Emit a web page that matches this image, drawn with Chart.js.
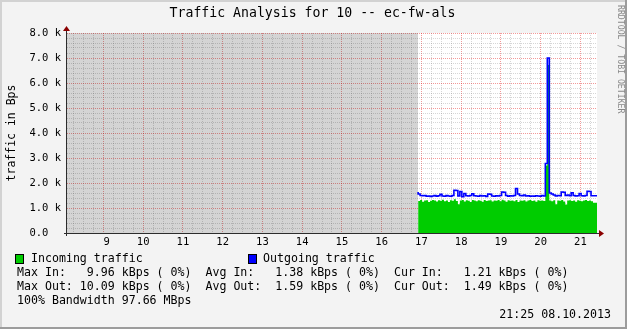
<!DOCTYPE html>
<html><head><meta charset="utf-8">
<script src="https://cdn.jsdelivr.net/npm/chart.js@4/dist/chart.umd.min.js"></script>
<style>html,body{margin:0;padding:0;background:#f3f3f3;overflow:hidden}canvas{display:block}</style>
</head><body>
<canvas id="c" width="627" height="329" style="width:627px;height:329px"></canvas>
<script>
// ---- data (hours of day, Bytes per second) ----
const viewStart = 8 + 5/60;      // 08:05
const viewEnd = 21 + 25/60;      // 21:25
const dataStart = 16 + 55/60;    // 16:55 first known sample
const sampleMinutes = 3;

const incoming = [
  1300,1280,1320,1250,1300,1310,1240,1290,1320,1300,
  1260,1310,1290,1330,1270,1300,1240,1310,1290,1350,
  1280,1150,1300,1320,1260,1310,1290,1240,1320,1300,
  1270,1310,1290,1250,1320,1280,1300,1310,1260,1300,
  1290,1320,1270,1330,1300,1250,1310,1290,1300,1270,
  1320,1240,1300,1290,1310,1260,1300,1320,1280,1300,
  1250,1310,1290,1300,1280,2700,6720,1300,1270,1310,
  1150,1300,1290,1320,1260,1140,1300,1310,1280,1300,
  1250,1310,1290,1270,1300,1320,1280,1300,1270,1210
];
const outgoing = [
  1640,1560,1500,1490,1500,1470,1480,1460,1480,1500,
  1470,1490,1550,1480,1470,1500,1480,1470,1500,1710,
  1700,1480,1660,1450,1580,1490,1480,1500,1570,1490,
  1480,1470,1500,1480,1490,1460,1560,1550,1480,1470,
  1490,1480,1500,1640,1630,1500,1470,1490,1480,1500,
  1780,1560,1500,1490,1520,1480,1490,1470,1480,1470,
  1490,1480,1470,1500,1480,2780,7000,1600,1560,1520,
  1480,1500,1490,1640,1630,1500,1520,1490,1610,1500,
  1480,1490,1580,1490,1480,1500,1670,1660,1490,1490
];
const unknownTop = 8000;

const hourTicks = [9,10,11,12,13,14,15,16,17,18,19,20,21];
const hourLabels = [' 9','10','11','12','13','14','15','16','17','18','19','20','21'];
const yTickValues = [0,1000,2000,3000,4000,5000,6000,7000,8000];
const yTickLabels = ['0.0  ','1.0 k','2.0 k','3.0 k','4.0 k','5.0 k','6.0 k','7.0 k','8.0 k'];

const titleText = 'Traffic Analysis for 10 -- ec-fw-als';
const legendRows = [
  'Max In:   9.96 kBps ( 0%)  Avg In:   1.38 kBps ( 0%)  Cur In:   1.21 kBps ( 0%)',
  'Max Out: 10.09 kBps ( 0%)  Avg Out:  1.59 kBps ( 0%)  Cur Out:  1.49 kBps ( 0%)',
  '100% Bandwidth 97.66 MBps'
];
const stamp = '21:25 08.10.2013';

// ---- build points ----
function toPoints(vals){
  const pts = vals.map((v,i)=>({x: dataStart + i*sampleMinutes/60, y: v}));
  pts.push({x: viewEnd, y: vals[vals.length-1]});
  return pts;
}
const xGrid = []; for (let m = 15; m < (viewEnd-8)*60; m += 15) { const h = 8 + m/60; if (h > viewStart) xGrid.push(h); }
const yGrid = []; for (let v = 0; v <= 8000; v += 200) yGrid.push(v);

const MONO = "'DejaVu Sans Mono', monospace";
const isInt = v => Math.abs(v - Math.round(v)) < 1e-6;

const decor = {
  id: 'decor',
  beforeDraw(chart){
    const {ctx, chartArea: a, width, height} = chart;
    ctx.save();
    ctx.fillStyle = '#f3f3f3'; ctx.fillRect(0,0,width,height);
    ctx.fillStyle = '#ffffff'; ctx.fillRect(a.left, a.top, a.right-a.left, a.bottom-a.top);
    ctx.restore();
  },
  afterDraw(chart){
    const {ctx, chartArea: a, width, height} = chart;
    ctx.save();
    // title
    ctx.font = '13.2px ' + MONO; ctx.fillStyle = '#000'; ctx.textAlign = 'center'; ctx.textBaseline = 'middle';
    ctx.fillText(titleText, 312.5, 13.5);
    // axes
    ctx.strokeStyle = '#2c2c2c'; ctx.lineWidth = 1;
    ctx.beginPath();
    ctx.moveTo(a.left - 3, a.bottom + 0.5); ctx.lineTo(a.right + 3, a.bottom + 0.5);
    ctx.moveTo(a.left - 0.5, a.bottom + 3); ctx.lineTo(a.left - 0.5, a.top - 3);
    ctx.stroke();
    ctx.fillStyle = '#8b0000';
    ctx.beginPath();
    ctx.moveTo(a.right + 2, a.bottom - 3); ctx.lineTo(a.right + 7, a.bottom + 0.5); ctx.lineTo(a.right + 2, a.bottom + 4); ctx.closePath(); ctx.fill();
    ctx.beginPath();
    ctx.moveTo(a.left - 4, a.top - 2); ctx.lineTo(a.left - 0.5, a.top - 7); ctx.lineTo(a.left + 3, a.top - 2); ctx.closePath(); ctx.fill();
    // legend
    ctx.font = '11.6px ' + MONO; ctx.textBaseline = 'middle'; ctx.textAlign = 'left';
    ctx.fillStyle = '#00cc00'; ctx.fillRect(15, 254, 8, 9);
    ctx.strokeStyle = '#000'; ctx.strokeRect(15.5, 254.5, 8, 9);
    ctx.fillStyle = '#0000ff'; ctx.fillRect(248, 254, 8, 9);
    ctx.strokeRect(248.5, 254.5, 8, 9);
    ctx.fillStyle = '#000';
    ctx.fillText('Incoming traffic', 31, 259);
    ctx.fillText('Outgoing traffic', 263, 259);
    legendRows.forEach((r,i)=>ctx.fillText(r, 17, 273 + i*14));
    ctx.textAlign = 'right';
    ctx.fillText(stamp, 611, 315);
    // watermark
    ctx.save();
    ctx.translate(620.5, 5); ctx.rotate(Math.PI/2);
    ctx.font = '8.2px ' + MONO; ctx.fillStyle = '#888'; ctx.textAlign = 'left'; ctx.textBaseline = 'middle';
    ctx.fillText('RRDTOOL / TOBI OETIKER', 0, 0);
    ctx.restore();
    // frame
    ctx.fillStyle = '#d2d2d2';
    ctx.fillRect(0,0,width,2); ctx.fillRect(0,0,2,height);
    ctx.fillStyle = '#9c9c9c';
    ctx.fillRect(0,height-2,width,2); ctx.fillRect(width-2,0,2,height);
    ctx.restore();
  }
};

new Chart(document.getElementById('c'), {
  type: 'line',
  data: {
    datasets: [
      { label: 'Outgoing traffic', data: toPoints(outgoing), borderColor: '#0000ff', borderWidth: 1.6,
        stepped: 'after', fill: false, pointRadius: 0, order: 0 },
      { label: 'Incoming traffic', data: toPoints(incoming), borderColor: '#00cc00', backgroundColor: '#00cc00',
        borderWidth: 0, stepped: 'after', fill: 'origin', pointRadius: 0, order: 1 },
      { label: 'unknown', data: [{x: viewStart, y: unknownTop}, {x: dataStart, y: unknownTop}],
        borderWidth: 0, backgroundColor: 'rgba(0,0,0,0.17)', fill: 'origin', pointRadius: 0, order: 2 }
    ]
  },
  options: {
    responsive: false, animation: false, devicePixelRatio: 1,
    layout: { padding: { left: 0, right: 30, top: 33, bottom: 0 } },
    plugins: { legend: { display: false }, tooltip: { enabled: false }, title: { display: false } },
    scales: {
      x: {
        type: 'linear', min: viewStart, max: viewEnd,
        afterBuildTicks: s => { s.ticks = xGrid.map(v => ({value: v})); },
        afterFit: s => { s.height = 96; },
        ticks: { autoSkip: false, maxRotation: 0, minRotation: 0, padding: 3, color: '#000',
          font: { family: MONO, size: 10.5 },
          callback: v => isInt(v) ? (hourLabels[hourTicks.indexOf(Math.round(v))] ?? '') : '' },
        grid: { drawTicks: false, lineWidth: 1,
          color: c => isInt(c.tick.value) ? 'rgba(225,0,0,0.4)' : 'rgba(120,120,120,0.3)' },
        border: { display: false, dash: [1,1] }
      },
      y: {
        type: 'linear', min: 0, max: 8000,
        afterBuildTicks: s => { s.ticks = yGrid.map(v => ({value: v})); },
        afterFit: s => { s.width = 67; },
        title: { display: true, text: 'traffic in Bps', color: '#000', font: { family: MONO, size: 11.5 },
          padding: { top: 5, bottom: 0 } },
        ticks: { autoSkip: false, padding: 6, color: '#000', font: { family: MONO, size: 10.5 },
          callback: v => (v % 1000 === 0) ? yTickLabels[yTickValues.indexOf(v)] : '' },
        grid: { drawTicks: false, lineWidth: 1,
          color: c => (c.tick.value % 1000 === 0) ? 'rgba(225,0,0,0.4)' : 'rgba(120,120,120,0.3)' },
        border: { display: false, dash: [1,1] }
      }
    }
  },
  plugins: [decor]
});
</script>
</body></html>
